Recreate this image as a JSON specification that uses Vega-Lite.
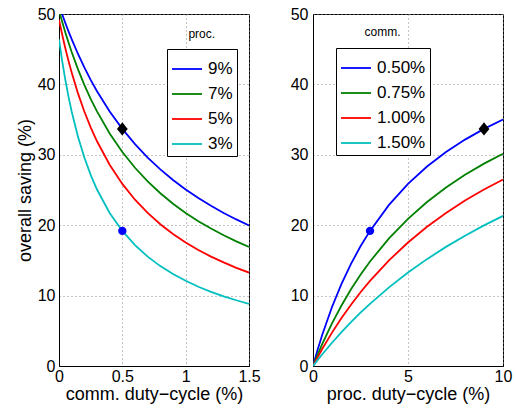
{
  "$schema": "https://vega.github.io/schema/vega-lite/v6.json",
  "background": "white",
  "padding": {"left": 15, "top": 5, "right": 0, "bottom": 0},
  "bounds": "flush",
  "spacing": 64,
  "config": {
    "font": "Liberation Sans",
    "view": {"stroke": "black", "strokeWidth": 1},
    "axis": {
      "labelFontSize": 16, "titleFontSize": 18, "titleFontWeight": "normal",
      "labelColor": "black", "titleColor": "black", "domainColor": "black",
      "ticks": false, "grid": true, "gridDash": [1, 3], "gridColor": "#888888",
      "labelPadding": 4, "labelFlush": false, "labelOverlap": false, "titlePadding": 3
    },
    "legend": {
      "orient": "none", "title": null, "symbolType": "stroke", "symbolSize": 900,
      "symbolStrokeWidth": 1.8, "labelFontSize": 17, "labelOffset": 5, "rowPadding": 1,
      "padding": 4, "strokeColor": "black", "fillColor": "white", "labelColor": "black"
    }
  },
  "datasets": {
    "left": [
      {"c":0,"proc":"9%","s":51.26},{"c":0.025,"proc":"9%","s":49.96},{"c":0.05,"proc":"9%","s":48.72},{"c":0.075,"proc":"9%","s":47.54},{"c":0.1,"proc":"9%","s":46.42},{"c":0.15,"proc":"9%","s":44.32},{"c":0.2,"proc":"9%","s":42.41},{"c":0.25,"proc":"9%","s":40.65},{"c":0.3,"proc":"9%","s":39.03},{"c":0.4,"proc":"9%","s":36.16},{"c":0.5,"proc":"9%","s":33.68},{"c":0.6,"proc":"9%","s":31.51},{"c":0.7,"proc":"9%","s":29.61},{"c":0.8,"proc":"9%","s":27.93},{"c":0.9,"proc":"9%","s":26.42},{"c":1.0,"proc":"9%","s":25.07},{"c":1.1,"proc":"9%","s":23.86},{"c":1.2,"proc":"9%","s":22.75},{"c":1.3,"proc":"9%","s":21.74},{"c":1.4,"proc":"9%","s":20.82},{"c":1.5,"proc":"9%","s":19.97},
      {"c":0,"proc":"7%","s":50.51},{"c":0.025,"proc":"7%","s":48.89},{"c":0.05,"proc":"7%","s":47.37},{"c":0.075,"proc":"7%","s":45.95},{"c":0.1,"proc":"7%","s":44.61},{"c":0.15,"proc":"7%","s":42.14},{"c":0.2,"proc":"7%","s":39.94},{"c":0.25,"proc":"7%","s":37.95},{"c":0.3,"proc":"7%","s":36.16},{"c":0.4,"proc":"7%","s":33.03},{"c":0.5,"proc":"7%","s":30.40},{"c":0.6,"proc":"7%","s":28.16},{"c":0.7,"proc":"7%","s":26.22},{"c":0.8,"proc":"7%","s":24.54},{"c":0.9,"proc":"7%","s":23.05},{"c":1.0,"proc":"7%","s":21.74},{"c":1.1,"proc":"7%","s":20.57},{"c":1.2,"proc":"7%","s":19.52},{"c":1.3,"proc":"7%","s":18.57},{"c":1.4,"proc":"7%","s":17.71},{"c":1.5,"proc":"7%","s":16.92},
      {"c":0,"proc":"5%","s":49.20},{"c":0.025,"proc":"5%","s":47.08},{"c":0.05,"proc":"5%","s":45.13},{"c":0.075,"proc":"5%","s":43.34},{"c":0.1,"proc":"5%","s":41.68},{"c":0.15,"proc":"5%","s":38.72},{"c":0.2,"proc":"5%","s":36.15},{"c":0.25,"proc":"5%","s":33.91},{"c":0.3,"proc":"5%","s":31.92},{"c":0.4,"proc":"5%","s":28.58},{"c":0.5,"proc":"5%","s":25.87},{"c":0.6,"proc":"5%","s":23.62},{"c":0.7,"proc":"5%","s":21.74},{"c":0.8,"proc":"5%","s":20.14},{"c":0.9,"proc":"5%","s":18.75},{"c":1.0,"proc":"5%","s":17.54},{"c":1.1,"proc":"5%","s":16.48},{"c":1.2,"proc":"5%","s":15.54},{"c":1.3,"proc":"5%","s":14.71},{"c":1.4,"proc":"5%","s":13.95},{"c":1.5,"proc":"5%","s":13.27},
      {"c":0,"proc":"3%","s":46.40},{"c":0.025,"proc":"3%","s":43.33},{"c":0.05,"proc":"3%","s":40.64},{"c":0.075,"proc":"3%","s":38.26},{"c":0.1,"proc":"3%","s":36.15},{"c":0.15,"proc":"3%","s":32.55},{"c":0.2,"proc":"3%","s":29.61},{"c":0.25,"proc":"3%","s":27.15},{"c":0.3,"proc":"3%","s":25.07},{"c":0.4,"proc":"3%","s":21.74},{"c":0.5,"proc":"3%","s":19.19},{"c":0.6,"proc":"3%","s":17.17},{"c":0.7,"proc":"3%","s":15.54},{"c":0.8,"proc":"3%","s":14.19},{"c":0.9,"proc":"3%","s":13.06},{"c":1.0,"proc":"3%","s":12.10},{"c":1.1,"proc":"3%","s":11.26},{"c":1.2,"proc":"3%","s":10.54},{"c":1.3,"proc":"3%","s":9.90},{"c":1.4,"proc":"3%","s":9.34},{"c":1.5,"proc":"3%","s":8.83}
    ],
    "right": [
      {"p":0,"comm":"0.50%","s":0},{"p":0.25,"comm":"0.50%","s":2.37},{"p":0.5,"comm":"0.50%","s":4.54},{"p":1,"comm":"0.50%","s":8.38},{"p":1.5,"comm":"0.50%","s":11.66},{"p":2,"comm":"0.50%","s":14.51},{"p":2.5,"comm":"0.50%","s":17.00},{"p":3,"comm":"0.50%","s":19.19},{"p":4,"comm":"0.50%","s":22.88},{"p":5,"comm":"0.50%","s":25.87},{"p":6,"comm":"0.50%","s":28.33},{"p":7,"comm":"0.50%","s":30.40},{"p":8,"comm":"0.50%","s":32.16},{"p":9,"comm":"0.50%","s":33.68},{"p":10,"comm":"0.50%","s":35.00},
      {"p":0,"comm":"0.75%","s":0},{"p":0.25,"comm":"0.75%","s":1.65},{"p":0.5,"comm":"0.75%","s":3.21},{"p":1,"comm":"0.75%","s":6.05},{"p":1.5,"comm":"0.75%","s":8.60},{"p":2,"comm":"0.75%","s":10.89},{"p":2.5,"comm":"0.75%","s":12.96},{"p":3,"comm":"0.75%","s":14.84},{"p":4,"comm":"0.75%","s":18.13},{"p":5,"comm":"0.75%","s":20.91},{"p":6,"comm":"0.75%","s":23.29},{"p":7,"comm":"0.75%","s":25.35},{"p":8,"comm":"0.75%","s":27.16},{"p":9,"comm":"0.75%","s":28.75},{"p":10,"comm":"0.75%","s":30.16},
      {"p":0,"comm":"1.00%","s":0},{"p":0.25,"comm":"1.00%","s":1.27},{"p":0.5,"comm":"1.00%","s":2.48},{"p":1,"comm":"1.00%","s":4.74},{"p":1.5,"comm":"1.00%","s":6.81},{"p":2,"comm":"1.00%","s":8.71},{"p":2.5,"comm":"1.00%","s":10.47},{"p":3,"comm":"1.00%","s":12.10},{"p":4,"comm":"1.00%","s":15.01},{"p":5,"comm":"1.00%","s":17.54},{"p":6,"comm":"1.00%","s":19.77},{"p":7,"comm":"1.00%","s":21.74},{"p":8,"comm":"1.00%","s":23.50},{"p":9,"comm":"1.00%","s":25.07},{"p":10,"comm":"1.00%","s":26.50},
      {"p":0,"comm":"1.50%","s":0},{"p":0.25,"comm":"1.50%","s":0.87},{"p":0.5,"comm":"1.50%","s":1.70},{"p":1,"comm":"1.50%","s":3.30},{"p":1.5,"comm":"1.50%","s":4.81},{"p":2,"comm":"1.50%","s":6.23},{"p":2.5,"comm":"1.50%","s":7.57},{"p":3,"comm":"1.50%","s":8.83},{"p":4,"comm":"1.50%","s":11.17},{"p":5,"comm":"1.50%","s":13.27},{"p":6,"comm":"1.50%","s":15.18},{"p":7,"comm":"1.50%","s":16.92},{"p":8,"comm":"1.50%","s":18.51},{"p":9,"comm":"1.50%","s":19.97},{"p":10,"comm":"1.50%","s":21.32}
    ]
  },
  "resolve": {
    "scale": {"x": "independent", "y": "independent", "color": "independent"},
    "legend": {"color": "independent"}
  },
  "hconcat": [
    {
      "width": 190,
      "height": 352,
      "layer": [
        {
          "data": {"name": "left"},
          "mark": {"type": "line", "clip": true, "strokeWidth": 1.8},
          "encoding": {
            "x": {"field": "c", "type": "quantitative", "scale": {"domain": [0, 1.5], "nice": false},
                  "axis": {"values": [0, 0.5, 1, 1.5], "format": "~r", "title": "comm. duty−cycle (%)", "labelPadding": 2, "titlePadding": 1}},
            "y": {"field": "s", "type": "quantitative", "scale": {"domain": [0, 50], "nice": false},
                  "axis": {"values": [0, 10, 20, 30, 40, 50], "title": "overall saving (%)"}},
            "color": {"field": "proc", "type": "nominal",
                      "scale": {"domain": ["9%", "7%", "5%", "3%"], "range": ["#0000ff", "#008000", "#ff0000", "#00bfbf"]},
                      "legend": {"legendX": 108, "legendY": 35, "labelExpr": "datum.label + '   '"}}
          }
        },
        {
          "data": {"values": [{"c": 0.5, "s": 33.68}]},
          "mark": {"type": "point", "shape": "M0,-1.1L0.9,0L0,1.1L-0.9,0Z", "filled": true, "color": "black", "size": 144, "opacity": 1},
          "encoding": {"x": {"field": "c", "type": "quantitative"}, "y": {"field": "s", "type": "quantitative"}}
        },
        {
          "data": {"values": [{"c": 0.5, "s": 19.19}]},
          "mark": {"type": "circle", "color": "#0000ff", "size": 70, "opacity": 1},
          "encoding": {"x": {"field": "c", "type": "quantitative"}, "y": {"field": "s", "type": "quantitative"}}
        },
        {
          "data": {"values": [{"label": "proc."}]},
          "mark": {"type": "text", "fontSize": 12, "color": "black"},
          "encoding": {"x": {"datum": 1.127}, "y": {"datum": 47.2}, "text": {"field": "label"}}
        }
      ]
    },
    {
      "width": 190,
      "height": 352,
      "layer": [
        {
          "data": {"name": "right"},
          "mark": {"type": "line", "clip": true, "strokeWidth": 1.8},
          "encoding": {
            "x": {"field": "p", "type": "quantitative", "scale": {"domain": [0, 10], "nice": false},
                  "axis": {"values": [0, 5, 10], "format": "d", "title": "proc. duty−cycle (%)", "labelPadding": 2, "titlePadding": 1}},
            "y": {"field": "s", "type": "quantitative", "scale": {"domain": [0, 50], "nice": false},
                  "axis": {"values": [0, 10, 20, 30, 40, 50], "title": null, "labelPadding": 5}},
            "color": {"field": "comm", "type": "nominal",
                      "scale": {"domain": ["0.50%", "0.75%", "1.00%", "1.50%"], "range": ["#0000ff", "#008000", "#ff0000", "#00bfbf"]},
                      "legend": {"legendX": 23, "legendY": 34, "labelExpr": "datum.label + ' '"}}
          }
        },
        {
          "data": {"values": [{"p": 9, "s": 33.68}]},
          "mark": {"type": "point", "shape": "M0,-1.1L0.9,0L0,1.1L-0.9,0Z", "filled": true, "color": "black", "size": 144, "opacity": 1},
          "encoding": {"x": {"field": "p", "type": "quantitative"}, "y": {"field": "s", "type": "quantitative"}}
        },
        {
          "data": {"values": [{"p": 3, "s": 19.19}]},
          "mark": {"type": "circle", "color": "#0000ff", "size": 70, "opacity": 1},
          "encoding": {"x": {"field": "p", "type": "quantitative"}, "y": {"field": "s", "type": "quantitative"}}
        },
        {
          "data": {"values": [{"label": "comm."}]},
          "mark": {"type": "text", "fontSize": 12, "color": "black"},
          "encoding": {"x": {"datum": 3.66}, "y": {"datum": 47.4}, "text": {"field": "label"}}
        }
      ]
    }
  ]
}
